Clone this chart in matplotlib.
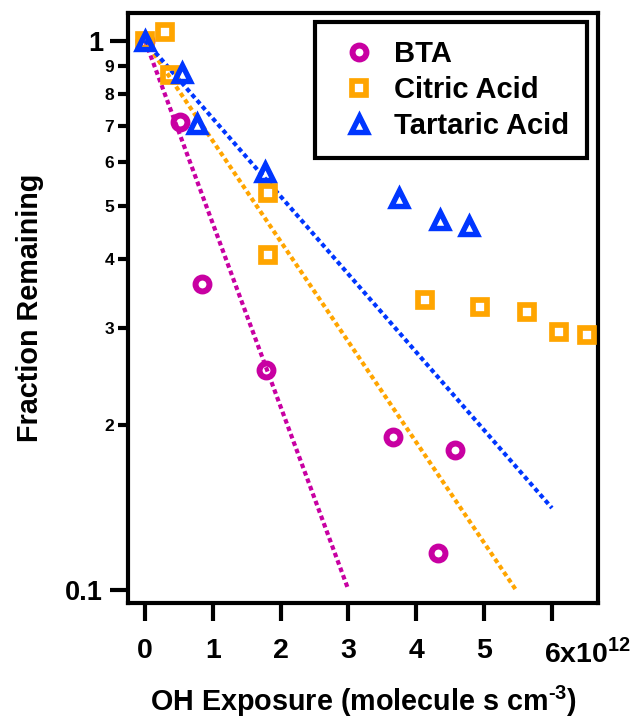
import matplotlib
matplotlib.use("Agg")
import matplotlib.pyplot as plt
import matplotlib.transforms as mtransforms

plt.rcParams['font.family'] = ['Liberation Sans', 'DejaVu Sans']
plt.rcParams['font.weight'] = 'bold'
plt.rcParams['mathtext.fontset'] = 'custom'
plt.rcParams['mathtext.rm'] = 'Liberation Sans'
plt.rcParams['mathtext.bf'] = 'Liberation Sans:bold'

# ---- data (OH exposure in units of 1e12 molecule s cm^-3) ----
bta_x = [0.0, 0.52, 0.84, 1.79, 3.66, 4.57, 4.32]
bta_y = [1.0, 0.711, 0.361, 0.251, 0.190, 0.180, 0.117]

citric_x = [0.0, 0.30, 0.37, 1.82, 1.82, 4.13, 4.94, 5.63, 6.10, 6.51]
citric_y = [1.0, 1.038, 0.866, 0.527, 0.407, 0.337, 0.328, 0.321, 0.295, 0.291]

tartaric_x = [0.0, 0.54, 0.76, 1.77, 3.74, 4.35, 4.77]
tartaric_y = [1.0, 0.872, 0.705, 0.577, 0.516, 0.471, 0.460]

# fit lines (end points, straight on log axis)
bta_fit_x = [0.0, 3.0]
bta_fit_y = [1.0, 0.1]
citric_fit_x = [0.0, 5.47]
citric_fit_y = [1.0, 0.1]
tartaric_fit_x = [0.0, 6.0]
tartaric_fit_y = [1.0, 0.141]

labels = ['BTA', 'Citric Acid', 'Tartaric Acid']
x_ticks = [0, 1, 2, 3, 4, 5, 6]
x_ticklabels = ['0', '1', '2', '3', '4', '5', '6x10$^{12}$']
y_major = [0.1, 1.0]
y_major_labels = ['0.1', '1']
y_minor = [0.2, 0.3, 0.4, 0.5, 0.6, 0.7, 0.8, 0.9]
y_minor_labels = ['2', '3', '4', '5', '6', '7', '8', '9']

c_bta = '#C800A2'
c_cit = '#FFA500'
c_tar = '#0036FF'

fig = plt.figure(figsize=(6.36, 7.23), dpi=100)
ax = fig.add_axes([0.2013, 0.166, 0.739, 0.8167])
ax.set_yscale('log')

dot = (0, (1.1, 0.8))
lw = 3.0
ax.plot(bta_fit_x, bta_fit_y, color=c_bta, lw=lw, linestyle=dot, dash_capstyle='butt', zorder=2)
ax.plot(citric_fit_x, citric_fit_y, color=c_cit, lw=lw, linestyle=dot, dash_capstyle='butt', zorder=2)
ax.plot(tartaric_fit_x, tartaric_fit_y, color=c_tar, lw=lw, linestyle=dot, dash_capstyle='butt', zorder=2)

h1, = ax.plot(bta_x, bta_y, linestyle='none', marker='o', ms=10, mfc='none',
              mec=c_bta, mew=4.3, zorder=3, label=labels[0])
h2, = ax.plot(citric_x, citric_y, linestyle='none', marker='s', ms=10.5, mfc='none',
              mec=c_cit, mew=4.1, zorder=3, label=labels[1])
h3, = ax.plot(tartaric_x, tartaric_y, linestyle='none', marker='^', ms=12, mfc='none',
              mec=c_tar, mew=3.9, zorder=4, label=labels[2])

ax.set_xlim(-0.251, 6.68)
ax.set_ylim(0.0947, 1.125)

for s in ax.spines.values():
    s.set_linewidth(3.0)
    s.set_color('black')

ax.set_xticks(x_ticks)
ax.set_xticklabels(x_ticklabels)
ax.set_yticks(y_major)
ax.set_yticklabels(y_major_labels)
ax.set_yticks(y_minor, minor=True)
ax.set_yticklabels(y_minor_labels, minor=True)
ax.xaxis.set_minor_locator(matplotlib.ticker.NullLocator())

ax.tick_params(axis='x', which='major', direction='out', length=13, width=3,
               labelsize=20.5, pad=12.5)
ax.tick_params(axis='y', which='major', direction='out', length=13, width=3,
               labelsize=19.5, pad=5)
ax.tick_params(axis='y', which='minor', direction='out', length=7, width=3,
               labelsize=12.5, pad=3)

# shift the last x tick label so that the "6" sits under its tick
last = ax.get_xticklabels()[-1]
last.set_horizontalalignment('left')
last.set_transform(last.get_transform() + mtransforms.ScaledTranslation(-8/100, 0, fig.dpi_scale_trans))

ax.set_xlabel('OH Exposure (molecule s cm$^{\u2010 3}$)', fontsize=20.7, fontweight='bold', labelpad=11)
ax.set_ylabel('Fraction Remaining', fontsize=20.7, fontweight='bold', labelpad=15)

leg = ax.legend(handles=[h1, h2, h3], loc='upper right', bbox_to_anchor=(0.977, 0.984),
                fontsize=21, frameon=True, fancybox=False, framealpha=1,
                borderpad=0.62, handlelength=1.8, handletextpad=0.3,
                labelspacing=0.27, borderaxespad=0)
leg.get_frame().set_edgecolor('black')
leg.get_frame().set_linewidth(3.0)
for t in leg.get_texts():
    t.set_fontweight('bold')

fig.savefig('out.png', dpi=100)
